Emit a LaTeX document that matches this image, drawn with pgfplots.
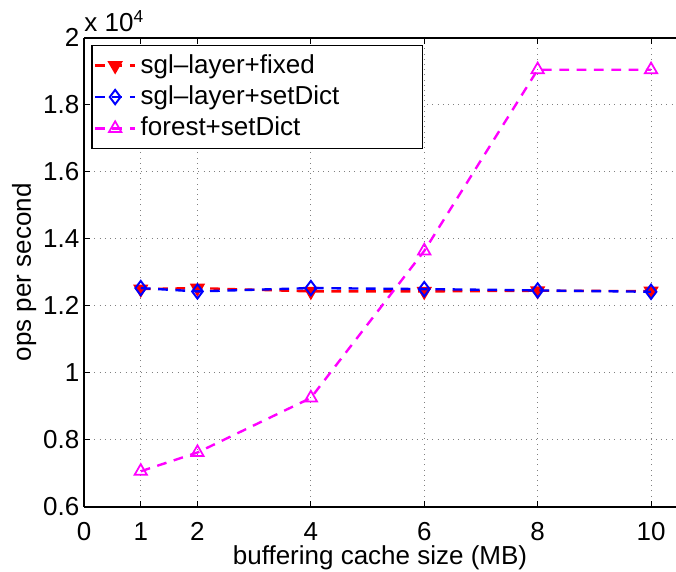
\documentclass[border=0pt]{standalone}
\usepackage{fontspec}
\setmainfont{Liberation Sans}
\usepackage{pgfplots}
\pgfplotsset{compat=1.18}
\usetikzlibrary{calc}
\definecolor{mred}{RGB}{255,0,0}
\definecolor{mblue}{RGB}{0,0,255}
\definecolor{mmag}{RGB}{255,0,255}

\begin{document}
\fontsize{12}{14.4}\selectfont
\begin{tikzpicture}
\begin{axis}[
    scale only axis,
    width=273.2pt,
    height=216.4pt,
    xmin=0, xmax=10.44,
    ymin=6000, ymax=20000,
    clip mode=individual,
    axis x line*=box,
    axis y line*=left,
    axis line style={black, line width=0.7pt},
    xtick={0,1,2,4,6,8,10},
    xticklabels={0,1,2,4,6,8,10},
    ytick={6000,8000,10000,12000,14000,16000,18000,20000},
    yticklabels={0.6,0.8,1,1.2,1.4,1.6,1.8,2},
    scaled y ticks=false,
    tick align=inside,
    major tick length=2.8pt,
    tick style={black, line width=0.5pt},
    xticklabel style={yshift=-3pt},
    yticklabel style={xshift=2pt},
    grid=major,
    grid style={dotted, gray, line width=0.45pt},
    xlabel={buffering cache size (MB)},
    ylabel={ops per second},
    xlabel style={at={(rel axis cs:0.5,0)}, anchor=base, yshift=-26.5pt},
    ylabel style={at={(rel axis cs:0,0.5)}, anchor=center, yshift=27.7pt},
    legend image code/.code={
        \draw[mark repeat=2, mark phase=2, #1]
        plot coordinates {(0pt,0pt) (9.25pt,0pt) (18.5pt,0pt)};
    },
    legend style={
        at={(rel axis cs:0,1)}, anchor=north west,
        xshift=3.2pt, yshift=-3.2pt,
        draw=black, line width=0.7pt,
        inner xsep=1pt, inner ysep=2pt,
        cells={anchor=west},
        nodes={inner sep=2pt, text depth=0.15em, line width=1.1pt},
    },
    every axis plot/.append style={line width=1.1pt, dash pattern=on 4.5pt off 3.5pt},
]
\addplot[color=mred, mark=triangle*, mark size=3.3pt,
    mark options={solid, rotate=180, fill=mred, line width=0.8pt}]
    coordinates {(1,12500) (2,12530) (4,12430) (6,12430) (8,12450) (10,12440)};
\addlegendentry{\makebox[127pt][l]{sgl--layer+fixed}}
\addplot[color=mblue, mark=diamond, mark size=3.3pt, mark options={solid, line width=0.9pt}]
    coordinates {(1,12530) (2,12430) (4,12530) (6,12500) (8,12460) (10,12420)};
\addlegendentry{\makebox[127pt][l]{sgl--layer+setDict}}
\addplot[color=mmag, mark=triangle, mark size=3.3pt, mark options={solid, line width=0.8pt}]
    coordinates {(1,7060) (2,7620) (4,9250) (6,13640) (8,19050) (10,19050)};
\addlegendentry{\makebox[127pt][l]{forest+setDict}}
\node[anchor=base west, inner sep=0pt] at (rel axis cs:0,1) [yshift=2.8pt] {x 10\textsuperscript{4}};
\coordinate (bl) at (rel axis cs:0,0);
\coordinate (tr) at (rel axis cs:1,1);
\end{axis}
\pgfresetboundingbox
\path[use as bounding box] ($(bl)+(-38.8pt,-30pt)$) rectangle ($(tr)+(0pt,17.5pt)$);
\end{tikzpicture}
\end{document}
